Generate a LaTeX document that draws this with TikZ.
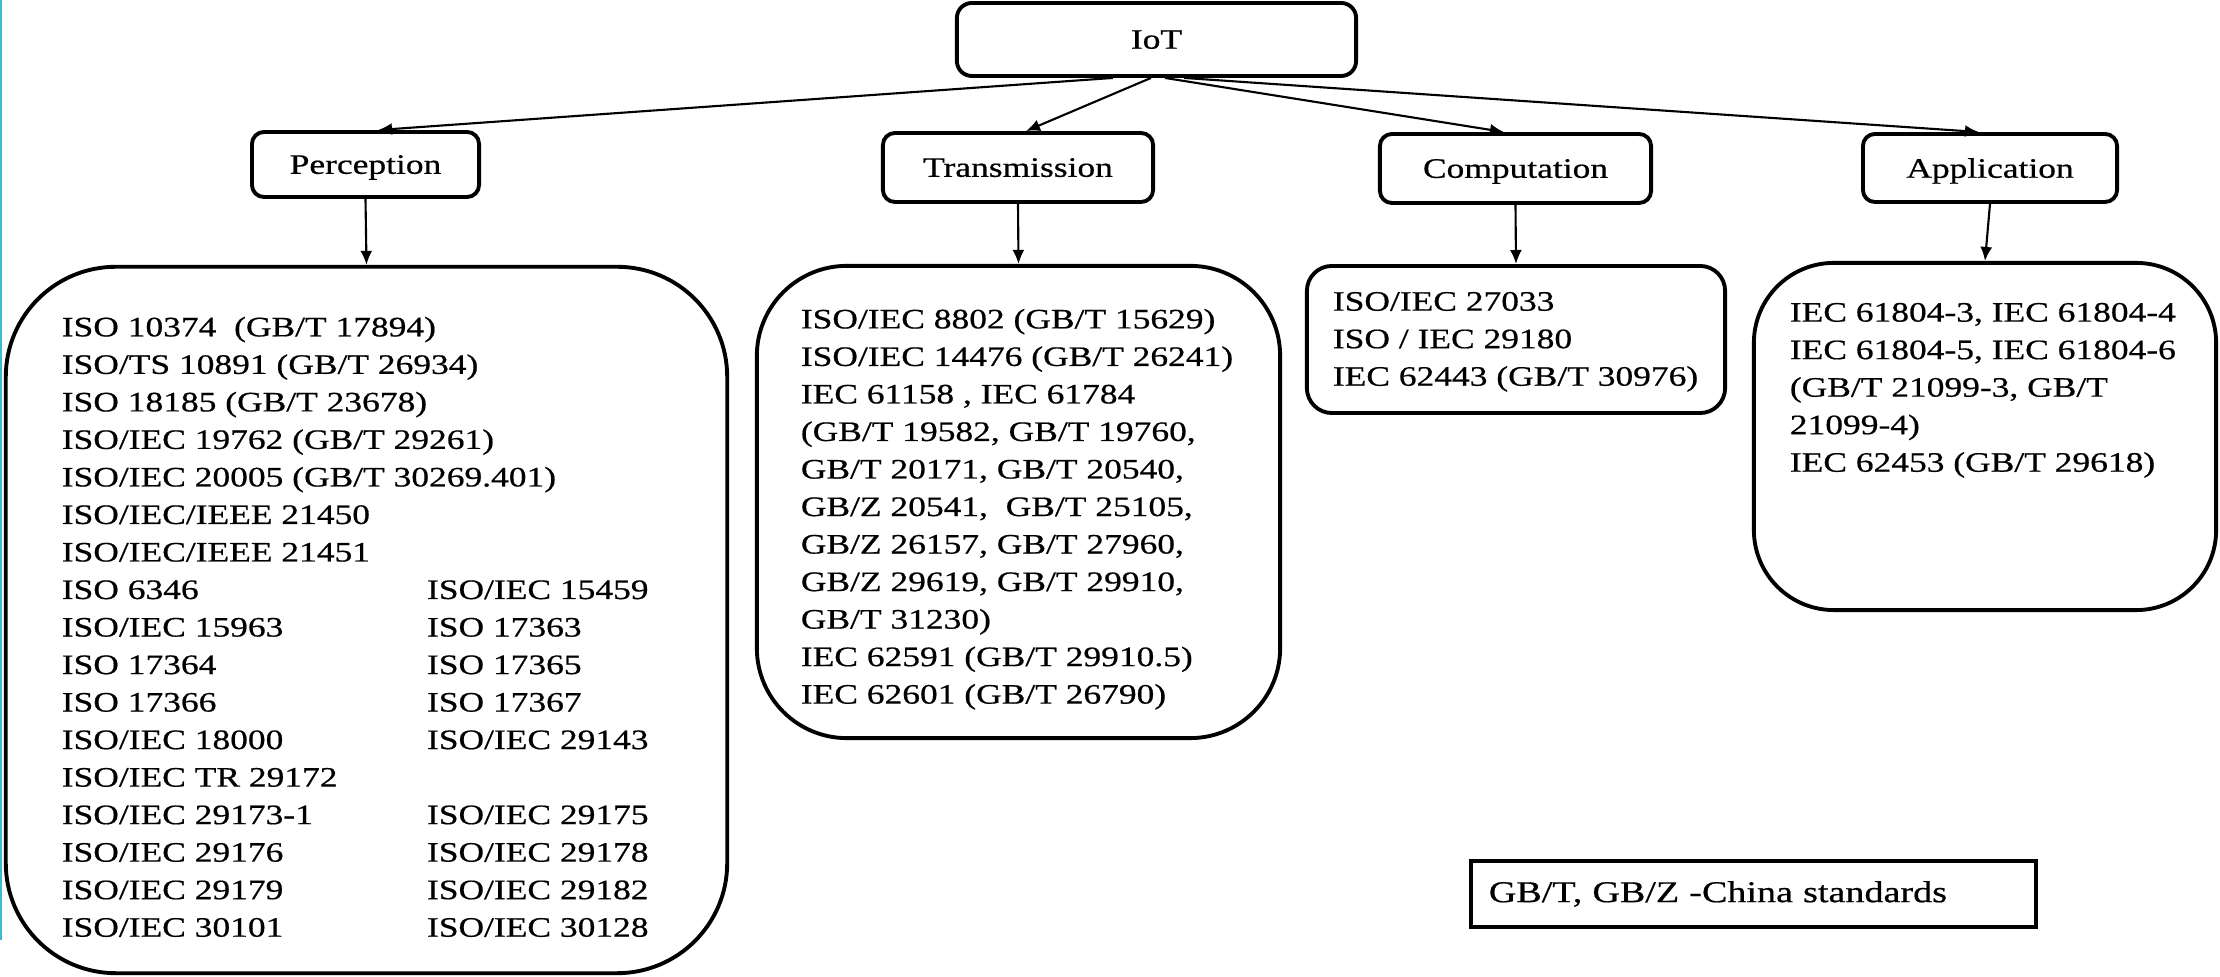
\documentclass[tikz,border=0pt]{standalone}
\usepackage{fontspec}
\setmainfont{Liberation Serif}[FakeStretch=1.26,FakeBold=0.6]
\usetikzlibrary{arrows.meta}
\definecolor{edgecyan}{HTML}{3CBCD4}
\tikzset{catbox/.style={draw,line width=1.1pt,rounded corners=0.12cm,inner sep=0pt,text depth=0pt,font=\fontsize{8}{10.67}\selectfont}}
\tikzset{listbox/.style={draw,line width=1.1pt,inner sep=0pt,font=\fontsize{8}{10.67}\selectfont}}
\tikzset{link/.style={line width=0.6pt,-{Latex[length=1.4mm,width=1.2mm]}}}

\begin{document}
\begin{tikzpicture}[x=0.01cm,y=-0.01cm]
	\useasboundingbox (0,0) rectangle (2220,977);
	\fill[edgecyan] (0,0) rectangle (2.5,940);

	% top and the four layers
	\node[catbox,minimum width=3.99cm,minimum height=0.73cm,rounded corners=0.15cm] (iot) at (1156.5,39.5) {IoT};
	\node[catbox,minimum width=2.27cm,minimum height=0.65cm] (perc) at (365.5,164.5) {Perception};
	\node[catbox,minimum width=2.70cm,minimum height=0.69cm] (trans) at (1018,167.5) {Transmission};
	\node[catbox,minimum width=2.71cm,minimum height=0.69cm] (comp) at (1515.5,168.5) {Computation};
	\node[catbox,minimum width=2.54cm,minimum height=0.68cm] (appl) at (1990,168) {Application};

	% standard lists
	\node[listbox,minimum width=7.21cm,minimum height=7.06cm,rounded corners=1.1cm] (plist) at (366.5,620)
		{\parbox[c][6.06cm][t]{6.09cm}{\raggedright
		ISO 10374\ \ (GB/T 17894)\\
		ISO/TS 10891 (GB/T 26934)\\
		ISO 18185 (GB/T 23678)\\
		ISO/IEC 19762 (GB/T 29261)\\
		ISO/IEC 20005 (GB/T 30269.401)\\
		ISO/IEC/IEEE 21450\\
		ISO/IEC/IEEE 21451\\
		\makebox[3.65cm][l]{ISO 6346}ISO/IEC 15459\\
		\makebox[3.65cm][l]{ISO/IEC 15963}ISO 17363\\
		\makebox[3.65cm][l]{ISO 17364}ISO 17365\\
		\makebox[3.65cm][l]{ISO 17366}ISO 17367\\
		\makebox[3.65cm][l]{ISO/IEC 18000}ISO/IEC 29143\\
		ISO/IEC TR 29172\\
		\makebox[3.65cm][l]{ISO/IEC 29173-1}ISO/IEC 29175\\
		\makebox[3.65cm][l]{ISO/IEC 29176}ISO/IEC 29178\\
		\makebox[3.65cm][l]{ISO/IEC 29179}ISO/IEC 29182\\
		\makebox[3.65cm][l]{ISO/IEC 30101}ISO/IEC 30128}};
	\node[listbox,minimum width=5.23cm,minimum height=4.72cm,rounded corners=0.9cm] (tlist) at (1018.5,502)
		{\parbox[c][3.86cm][t]{4.35cm}{\raggedright
		ISO/IEC 8802 (GB/T 15629)\\
		ISO/IEC 14476 (GB/T 26241)\\
		IEC 61158 , IEC 61784\\
		(GB/T 19582, GB/T 19760,\\
		GB/T 20171, GB/T 20540,\\
		GB/Z 20541,\ \ GB/T 25105,\\
		GB/Z 26157, GB/T 27960,\\
		GB/Z 29619, GB/T 29910,\\
		GB/T 31230)\\
		IEC 62591 (GB/T 29910.5)\\
		IEC 62601 (GB/T 26790)}};
	\node[listbox,minimum width=4.18cm,minimum height=1.47cm,rounded corners=0.25cm] (clist) at (1516,339.5)
		{\parbox[c][0.95cm][t]{3.66cm}{\raggedright
		ISO/IEC 27033\\
		ISO / IEC 29180\\
		IEC 62443 (GB/T 30976)}};
	\node[listbox,minimum width=4.62cm,minimum height=3.47cm,rounded corners=0.8cm] (alist) at (1985,436.5)
		{\parbox[c][2.67cm][t]{3.9cm}{\raggedright
		IEC 61804-3, IEC 61804-4\\
		IEC 61804-5, IEC 61804-6\\
		(GB/T 21099-3, GB/T\\
		21099-4)\\
		IEC 62453 (GB/T 29618)}};

	\node[draw,line width=1.3pt,minimum width=5.65cm,minimum height=0.66cm,text width=5.29cm,align=left,inner xsep=0.18cm,inner ysep=0pt,font=\fontsize{8.6}{10.67}\selectfont] (note) at (1753.5,894) {GB/T, GB/Z -China standards};

	% arrows
	\draw[link] ([xshift=-0.435cm]iot.south) -- ([xshift=0.125cm]perc.north);
	\draw[link] ([xshift=-0.055cm]iot.south) -- ([xshift=0.08cm]trans.north);
	\draw[link] ([xshift=0.085cm]iot.south) -- ([xshift=-0.115cm]comp.north);
	\draw[link] ([xshift=0.275cm]iot.south) -- ([xshift=-0.11cm]appl.north);
	\draw[link] (perc.south) -- (plist.north);
	\draw[link] (trans.south) -- (tlist.north);
	\draw[link] (comp.south) -- (clist.north);
	\draw[link] (appl.south) -- (alist.north);
\end{tikzpicture}
\end{document}
